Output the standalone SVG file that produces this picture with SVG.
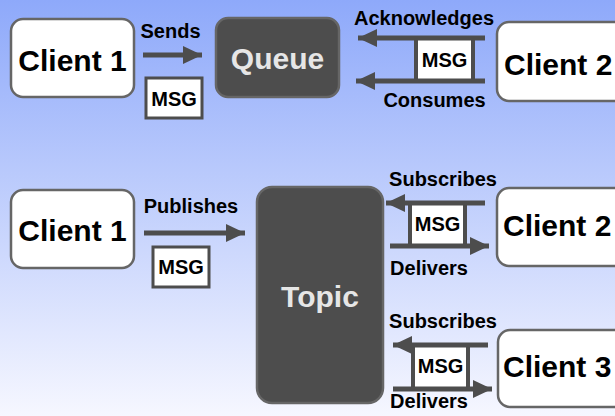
<svg xmlns="http://www.w3.org/2000/svg" width="615" height="416" viewBox="0 0 615 416">
<defs>
<linearGradient id="bg" x1="0" y1="0" x2="0" y2="1">
<stop offset="0" stop-color="#8ea9fa"/>
<stop offset="1" stop-color="#f6f7ff"/>
</linearGradient>
<marker id="ah" markerUnits="userSpaceOnUse" markerWidth="20" markerHeight="18" viewBox="0 0 20 18" refX="19" refY="9" orient="auto">
<path d="M0,0 L19,9 L0,18 Z" fill="#4d4d4d"/>
</marker>
</defs>
<style>
.client{fill:#fff;stroke:#666;stroke-width:2.5}
.broker{fill:#4d4d4d;stroke:#666;stroke-width:2.5}
.big{font-family:"Liberation Sans",Arial,sans-serif;font-weight:bold;font-size:30px;fill:#000}
.bt{fill:#e6e6e6}
.lbl{font-family:"Liberation Sans",Arial,sans-serif;font-weight:bold;font-size:20px;fill:#000;text-anchor:middle}
.msgt{font-family:"Liberation Sans",Arial,sans-serif;font-weight:bold;font-size:20px;fill:#000;text-anchor:middle}
.msg{fill:#fff;stroke:#4d4d4d;stroke-width:3}
.ladder{fill:#fff;stroke:#4d4d4d;stroke-width:4}
.arr{stroke:#4d4d4d;stroke-width:5;fill:none;marker-end:url(#ah)}
</style>
<rect x="0" y="0" width="615" height="416" fill="url(#bg)"/>

<g id="q-client1"><rect class="client" x="11" y="19" width="123" height="78" rx="12"/><text class="big" x="72.5" y="71" text-anchor="middle">Client 1</text></g>
<g id="queue"><rect class="broker" x="216" y="18" width="123" height="79" rx="12"/><text class="big bt" x="277.5" y="69" text-anchor="middle">Queue</text></g>
<g id="q-client2"><rect class="client" x="497" y="22" width="130" height="79" rx="12"/><text class="big" x="504" y="75">Client 2</text></g>

<g id="t-client1"><rect class="client" x="11" y="190" width="123" height="78" rx="12"/><text class="big" x="72.5" y="241" text-anchor="middle">Client 1</text></g>
<g id="topic"><rect class="broker" x="257" y="187" width="126" height="216" rx="15"/><text class="big bt" x="320" y="307" text-anchor="middle">Topic</text></g>
<g id="t-client2"><rect class="client" x="497" y="188" width="130" height="78" rx="12"/><text class="big" x="503" y="236">Client 2</text></g>
<g id="t-client3"><rect class="client" x="498" y="330" width="130" height="77" rx="12"/><text class="big" x="503" y="377">Client 3</text></g>

<g id="messages">
<rect class="msg" x="146" y="78" width="56" height="40"/><text class="msgt" x="174" y="106">MSG</text>
<rect class="ladder" x="416" y="38" width="57" height="43"/><text class="msgt" x="444.5" y="67">MSG</text>
<rect class="msg" x="153" y="247" width="56" height="40"/><text class="msgt" x="181" y="274">MSG</text>
<rect class="ladder" x="410" y="203" width="55" height="43"/><text class="msgt" x="437.5" y="231">MSG</text>
<rect class="ladder" x="413" y="345" width="55" height="44"/><text class="msgt" x="440.5" y="373">MSG</text>
</g>

<g id="connectors">
<path class="arr" d="M143,55 H202"/>
<path class="arr" d="M485,38 H358"/>
<path class="arr" d="M485,81 H356"/>
<path class="arr" d="M144,233 H245"/>
<path class="arr" d="M485,203 H386"/>
<path class="arr" d="M390,246 H489"/>
<path class="arr" d="M488,345 H393"/>
<path class="arr" d="M393,389 H492"/>
</g>

<g id="labels">
<text class="lbl" x="170.5" y="38">Sends</text>
<text class="lbl" x="424" y="25">Acknowledges</text>
<text class="lbl" x="434.5" y="107">Consumes</text>
<text class="lbl" x="191" y="213">Publishes</text>
<text class="lbl" x="443" y="186">Subscribes</text>
<text class="lbl" x="429" y="275">Delivers</text>
<text class="lbl" x="443" y="328">Subscribes</text>
<text class="lbl" x="429" y="408">Delivers</text>
</g>
</svg>
